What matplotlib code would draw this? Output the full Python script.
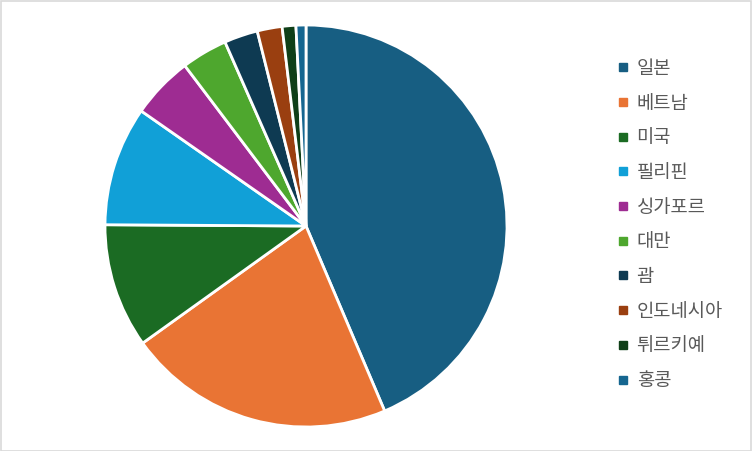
import matplotlib.pyplot as plt
from matplotlib.lines import Line2D
from matplotlib.patches import Rectangle

plt.rcParams['font.family'] = ['Noto Sans CJK KR', 'DejaVu Sans']

countries = ["일본", "베트남", "미국", "필리핀", "싱가포르", "대만", "괌", "인도네시아", "튀르키예", "홍콩"]
shares = [43.6, 21.5, 10.0, 9.6, 5.0, 3.7, 2.7, 2.0, 1.1, 0.8]
colors = ["#175E82", "#E97434", "#1B6B23", "#11A0D7", "#9E2C92",
          "#4EA72E", "#0E3A52", "#9A3F10", "#0F3F18", "#156690"]

fig = plt.figure(figsize=(7.52, 4.51), dpi=100)
W, H = 752, 451
cx, cy, r = 306, 226, 201
ax = fig.add_axes([(cx - r) / W, (H - cy - r) / H, 2 * r / W, 2 * r / H])
ax.pie(shares, colors=colors, startangle=90, counterclock=False,
       wedgeprops=dict(edgecolor="white", linewidth=2))
ax.set_xlim(-1.0, 1.0)
ax.set_ylim(-1.0, 1.0)
ax.set_aspect("equal")

# outer frame
fig.patches.append(Rectangle((0.5 / W, 0.5 / H), 1 - 1.5 / W, 1 - 1.5 / H,
                             transform=fig.transFigure, fill=False,
                             edgecolor="#D9D9D9", linewidth=1.2))

handles = [Line2D([], [], marker="s", linestyle="", markersize=6,
                  markerfacecolor=c, markeredgecolor=c) for c in colors]
leg = fig.legend(handles, countries, loc="upper left",
                 bbox_to_anchor=(600 / W, 1 - 41 / H), frameon=False,
                 fontsize=13.5, labelcolor="#595959", handlelength=0.6,
                 handletextpad=0.45, labelspacing=0.73)

fig.savefig("out.png", dpi=100)
